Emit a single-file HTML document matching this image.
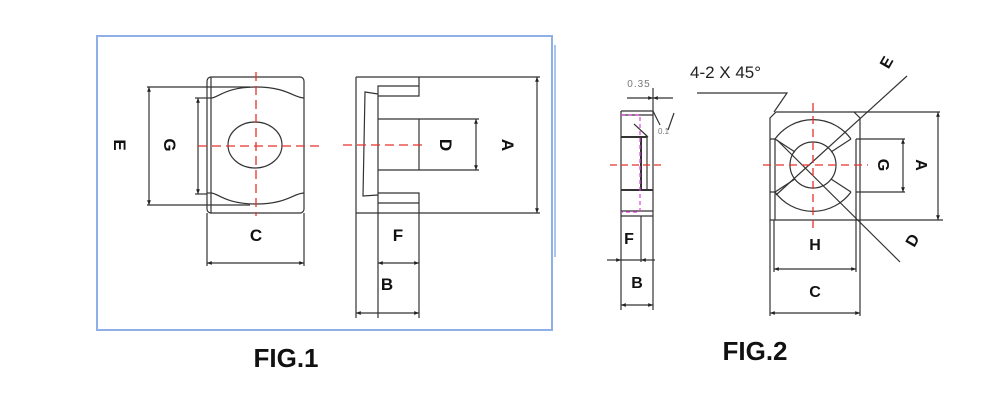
<!DOCTYPE html>
<html><head><meta charset="utf-8"><style>
html,body{margin:0;padding:0;background:#fff;}
svg{display:block;}
text{font-family:"Liberation Sans",sans-serif;}
</style></head><body>
<svg width="995" height="400" viewBox="0 0 995 400" xmlns="http://www.w3.org/2000/svg">
<defs>
<marker id="a" viewBox="0 0 10 10" refX="10" refY="5" markerWidth="6" markerHeight="4" orient="auto-start-reverse"><path d="M0,1 L10,5 L0,9 z" fill="#222"/></marker>
</defs>
<rect x="97" y="36" width="455" height="294" fill="none" stroke="#8fb0e6" stroke-width="2"/>
<line x1="555" y1="45" x2="555" y2="257" stroke="#8fb0e6" stroke-width="1.5"/>
<g stroke="#333" stroke-width="1.2" fill="none">
<rect x="207" y="77" width="97" height="136" rx="4"/>
<path d="M211,98 C218,98 225,87 256,87 C287,87 294,98 304,98"/>
<path d="M211,193 C218,193 225,204 256,204 C287,204 294,193 304,193"/>
<line x1="211" y1="77" x2="211" y2="213"/>
<line x1="207" y1="98" x2="211" y2="98"/><line x1="207" y1="193" x2="211" y2="193"/>
<ellipse cx="255" cy="145" rx="27" ry="23"/>
<line x1="147" y1="87" x2="250" y2="87"/><line x1="147" y1="205" x2="250" y2="205"/>
<line x1="149" y1="87" x2="149" y2="205" marker-start="url(#a)" marker-end="url(#a)"/>
<line x1="195" y1="98" x2="207" y2="98"/><line x1="195" y1="194" x2="207" y2="194"/>
<line x1="198" y1="98" x2="198" y2="194" marker-start="url(#a)" marker-end="url(#a)"/>
<line x1="207" y1="213" x2="207" y2="266"/><line x1="304" y1="213" x2="304" y2="266"/>
<line x1="207" y1="263" x2="304" y2="263" marker-start="url(#a)" marker-end="url(#a)"/>
<line x1="356" y1="77" x2="540" y2="77"/><line x1="356" y1="213" x2="540" y2="213"/>
<line x1="356" y1="77" x2="356" y2="318"/>
<path d="M378,318 L378,86 L419,86 L419,77"/>
<path d="M378,96 L419,96 L419,86"/>
<path d="M378,119 L479,119 M378,170 L479,170 M419,119 L419,170"/>
<path d="M378,193 L419,193 L419,318 M378,203 L419,203"/>
<path d="M378,94 L365,92 L363,196 L378,195"/>
<line x1="537" y1="77" x2="537" y2="213" marker-start="url(#a)" marker-end="url(#a)"/>
<line x1="476" y1="119" x2="476" y2="170" marker-start="url(#a)" marker-end="url(#a)"/>
<line x1="378" y1="263" x2="419" y2="263" marker-start="url(#a)" marker-end="url(#a)"/>
<line x1="356" y1="313" x2="419" y2="313" marker-start="url(#a)" marker-end="url(#a)"/>
</g>
<g stroke="#e8302c" stroke-width="1.3" stroke-dasharray="9,5" fill="none">
<line x1="256" y1="72" x2="256" y2="216"/>
<line x1="198" y1="146" x2="322" y2="146"/>
<line x1="343" y1="145" x2="426" y2="145"/>
</g>
<g font-size="17" font-weight="bold" fill="#111" text-anchor="middle">
<text transform="translate(120,145) rotate(90)" dy="6">E</text>
<text transform="translate(170,145) rotate(90)" dy="6">G</text>
<text x="256" y="241">C</text>
<text transform="translate(446,145) rotate(90)" dy="6">D</text>
<text transform="translate(508,145) rotate(90)" dy="6">A</text>
<text x="398" y="241">F</text>
<text x="387" y="290">B</text>
</g>
<text x="286" y="367" font-size="26" font-weight="bold" text-anchor="middle" fill="#111">FIG.1</text>
<text x="755" y="360" font-size="26" font-weight="bold" text-anchor="middle" fill="#111">FIG.2</text>

<g stroke="#333" stroke-width="1.2" fill="none">
<line x1="621" y1="111" x2="653" y2="111"/>
<line x1="621" y1="111" x2="621" y2="310"/><line x1="653" y1="111" x2="653" y2="310"/>
<line x1="621" y1="115" x2="653" y2="115"/>
<line x1="621" y1="137" x2="647" y2="137" stroke-width="2"/>
<line x1="621" y1="190" x2="653" y2="190" stroke-width="2"/>
<line x1="621" y1="211" x2="653" y2="211"/><line x1="621" y1="216" x2="653" y2="216"/>
<line x1="641" y1="137" x2="641" y2="190" stroke-width="2"/>
<line x1="647" y1="137" x2="647" y2="190"/>
<line x1="641" y1="216" x2="641" y2="262"/>
<line x1="607" y1="260" x2="621" y2="260" marker-end="url(#a)"/>
<line x1="655" y1="260" x2="641" y2="260" marker-end="url(#a)"/>
<line x1="621" y1="260" x2="641" y2="260"/>
<line x1="621" y1="305" x2="653" y2="305" marker-start="url(#a)" marker-end="url(#a)"/>
<line x1="627" y1="98" x2="653" y2="98" marker-end="url(#a)"/>
<line x1="673" y1="98" x2="653" y2="98" marker-end="url(#a)"/>
<line x1="653" y1="88" x2="653" y2="111"/>
<line x1="653" y1="111" x2="660" y2="125"/>
<line x1="634" y1="124" x2="648" y2="137"/>
<line x1="674" y1="113" x2="668" y2="130"/>
</g>
<g stroke="#e040e0" stroke-width="1.2" stroke-dasharray="4,3" fill="none">
<path d="M621,115 L640,115 L640,212 L621,212"/>
</g>
<line x1="610" y1="165" x2="665" y2="165" stroke="#e8302c" stroke-width="1.2" stroke-dasharray="7,4"/>
<text x="639" y="87" font-size="10" fill="#777" text-anchor="middle" letter-spacing="1">0.35</text>
<text x="658" y="134" font-size="8" fill="#777">0.1</text>
<g font-size="16" font-weight="bold" fill="#111" text-anchor="middle">
<text x="629" y="244">F</text>
<text x="637" y="288">B</text>
</g>

<g stroke="#333" stroke-width="1.2" fill="none">
<path d="M697,93 L787,93 L774,112"/>
<path d="M776,112 L854,112 L860,118 L860,220 L770,220 L770,118 Z"/>
<line x1="854" y1="112" x2="940" y2="112"/>
<line x1="860" y1="220" x2="943" y2="220"/>
<path d="M775,139 L775,220 M856,139 L856,220"/>
<path d="M770,139 L775,139 M770,192 L775,192"/>
<path d="M775,139 A47,47 0 0 1 851,139"/>
<path d="M775,192 A47,47 0 0 0 851,192"/>
<path d="M856,139 L905,139 M856,192 L905,192"/>
<circle cx="813" cy="165" r="23"/>
<line x1="775" y1="139" x2="795" y2="152"/><line x1="851" y1="139" x2="831" y2="152"/>
<line x1="775" y1="192" x2="795" y2="179"/><line x1="851" y1="192" x2="831" y2="179"/>
<line x1="907" y1="76" x2="776" y2="195"/>
<line x1="777" y1="140" x2="900" y2="262"/>
<line x1="903" y1="139" x2="903" y2="192" marker-start="url(#a)" marker-end="url(#a)"/>
<line x1="938" y1="112" x2="938" y2="220" marker-start="url(#a)" marker-end="url(#a)"/>
<line x1="774" y1="220" x2="774" y2="272"/><line x1="856" y1="220" x2="856" y2="272"/>
<line x1="770" y1="220" x2="770" y2="316"/><line x1="860" y1="220" x2="860" y2="316"/>
<line x1="774" y1="269" x2="856" y2="269" marker-start="url(#a)" marker-end="url(#a)"/>
<line x1="770" y1="313" x2="860" y2="313" marker-start="url(#a)" marker-end="url(#a)"/>
</g>
<g stroke="#e8302c" stroke-width="1.3" stroke-dasharray="8,5" fill="none">
<line x1="813" y1="103" x2="813" y2="228"/>
<line x1="763" y1="165" x2="868" y2="165"/>
</g>
<text x="690" y="78" font-size="17" fill="#222">4-2 X 45°</text>
<g font-size="16" font-weight="bold" fill="#111" text-anchor="middle">
<text transform="translate(886,62) rotate(-60)" dy="6">E</text>
<text transform="translate(912,240) rotate(-60)" dy="6">D</text>
<text transform="translate(884,165) rotate(90)" dy="6">G</text>
<text transform="translate(922,165) rotate(90)" dy="6">A</text>
<text x="815" y="250">H</text>
<text x="815" y="297">C</text>
</g>
</svg>
</body></html>
